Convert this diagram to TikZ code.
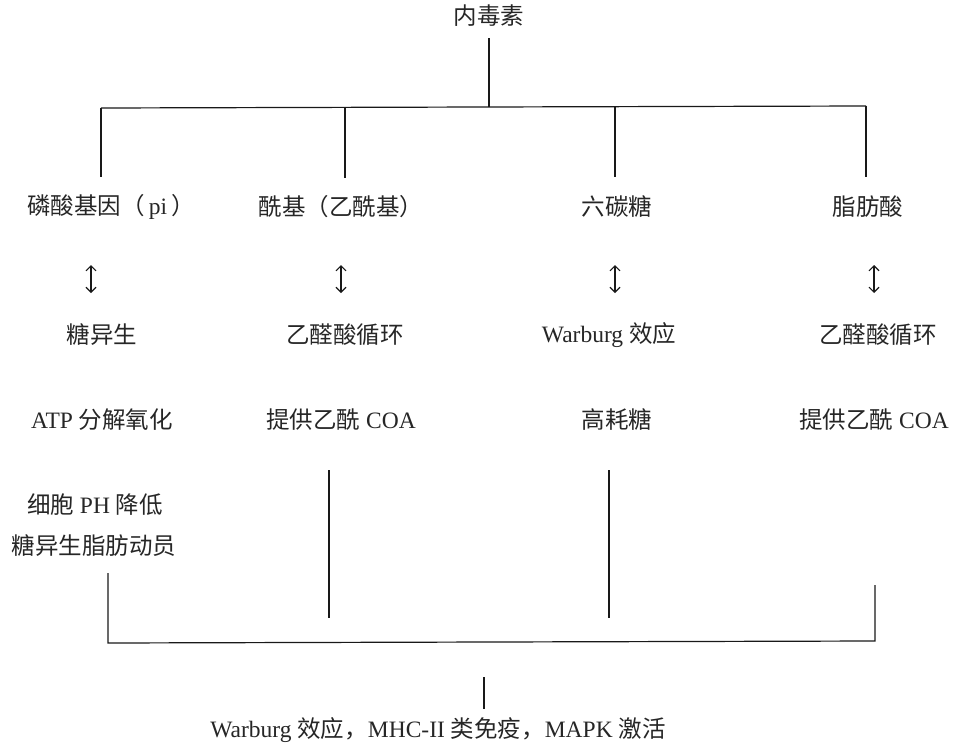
\documentclass[tikz,border=0pt]{standalone}
\usepackage{fontspec}
\setmainfont{Liberation Serif}
\newfontfamily\cjkfont{Noto Sans CJK SC}
\newcommand\zhs[1]{{\cjkfont #1}}
\usetikzlibrary{arrows.meta}
\begin{document}
\begin{tikzpicture}[x=1pt,y=-1pt,
  lbl/.style={inner sep=0pt, font=\fontsize{23.5}{27}\selectfont, text=black!85},
  wire/.style={line width=1.2pt, black!90},
  twoway/.style={line width=1.1pt, black!90, {Straight Barb[length=5pt,width=10pt]}-{Straight Barb[length=5pt,width=10pt]}}]
\useasboundingbox (0,0) rectangle (954,745);
% labels
\node[lbl] (t)  at (489,16)  {\zhs{内毒素}};
\node[lbl] (a1) at (111,207) {\zhs{磷酸基因（}\,pi\,\zhs{）}};
\node[lbl] (a2) at (341,207) {\zhs{酰基（乙酰基）}};
\node[lbl] (a3) at (617,207) {\zhs{六碳糖}};
\node[lbl] (a4) at (868,207) {\zhs{脂肪酸}};
\node[lbl] (b1) at (102,335) {\zhs{糖异生}};
\node[lbl] (b2) at (345,335) {\zhs{乙醛酸循环}};
\node[lbl] (b3) at (609,335) {Warburg \zhs{效应}};
\node[lbl] (b4) at (878,335) {\zhs{乙醛酸循环}};
\node[lbl] (c1) at (102,420) {ATP \zhs{分解氧化}};
\node[lbl] (c2) at (341,420) {\zhs{提供乙酰} COA};
\node[lbl] (c3) at (617,420) {\zhs{高耗糖}};
\node[lbl] (c4) at (874,420) {\zhs{提供乙酰} COA};
\node[lbl] (d1) at (95,505)  {\zhs{细胞} PH \zhs{降低}};
\node[lbl] (d2) at (94,546)  {\zhs{糖异生脂肪动员}};
\node[lbl] (e)  at (438,730) {Warburg \zhs{效应，}MHC-II \zhs{类免疫，}MAPK \zhs{激活}};
% top tree
\coordinate (t0) at (489,38);
\coordinate (j0) at (489,107);
\coordinate (h1) at (101,108);
\coordinate (h2) at (345,108);
\coordinate (h3) at (615,107);
\coordinate (h4) at (866,106);
\coordinate (v1) at (101,177);
\coordinate (v2) at (345,178);
\coordinate (v3) at (615,177);
\coordinate (v4) at (866,177);
\draw[wire] (t0) -- (j0);
\draw[wire] (h1) -- (h4);
\draw[wire] (h1) -- (v1);
\draw[wire] (h2) -- (v2);
\draw[wire] (h3) -- (v3);
\draw[wire] (h4) -- (v4);
% two-way arrows
\coordinate (u1) at (91,265);  \coordinate (w1) at (91,293);
\coordinate (u2) at (341,265); \coordinate (w2) at (341,293);
\coordinate (u3) at (615,265); \coordinate (w3) at (615,293);
\coordinate (u4) at (874,265); \coordinate (w4) at (874,293);
\draw[twoway] (u1) -- (w1);
\draw[twoway] (u2) -- (w2);
\draw[twoway] (u3) -- (w3);
\draw[twoway] (u4) -- (w4);
% middle verticals
\coordinate (m2a) at (329,470); \coordinate (m2b) at (329,618);
\coordinate (m3a) at (609,470); \coordinate (m3b) at (609,618);
\draw[wire] (m2a) -- (m2b);
\draw[wire] (m3a) -- (m3b);
% bottom bracket
\coordinate (l1) at (108,573);
\coordinate (l2) at (108,643);
\coordinate (r2) at (875,641);
\coordinate (r1) at (875,585);
\draw[wire] (l1) -- (l2) -- (r2) -- (r1);
\coordinate (s1) at (484,677);
\coordinate (s2) at (484,709);
\draw[wire] (s1) -- (s2);
\end{tikzpicture}
\end{document}
